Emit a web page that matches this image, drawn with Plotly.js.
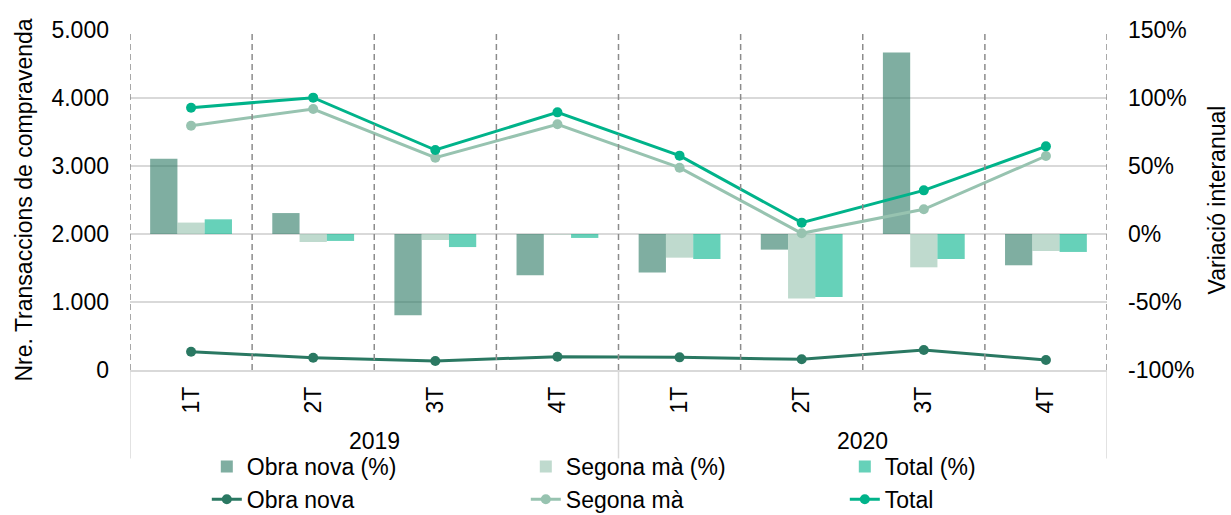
<!DOCTYPE html>
<html>
<head>
<meta charset="utf-8">
<script src="https://cdn.plot.ly/plotly-3.0.1.min.js"></script>
<style>html,body{margin:0;padding:0;background:#fff;}#chart{width:1231px;height:515px;}</style>
</head>
<body>
<div id="chart"></div>
<script>
// Data
const quarters = ['1T','2T','3T','4T','1T','2T','3T','4T'];
const years = ['2019','2020'];
const quartersPerYear = 4;

// Number of transactions (left axis)
const obraNova  = [269, 181, 132, 196, 186, 157, 294, 147];
const segonaMa  = [3593, 3838, 3122, 3613, 2975, 2010, 2363, 3147];
const total     = [3857, 4005, 3235, 3789, 3152, 2167, 2642, 3289];

// Year-on-year change in % (right axis)
const obraNovaPct = [55.4, 15.4, -59.8, -30.4, -28.4, -11.5, 133.4, -23.0];
const segonaMaPct = [8.4, -5.9, -4.4, -0.4, -17.4, -47.5, -24.5, -12.5];
const totalPct    = [10.8, -5.1, -9.6, -2.9, -18.4, -46.3, -18.4, -13.2];

// Axis ticks
const leftTicks = [0, 1000, 2000, 3000, 4000, 5000];
const leftTickText = ['0', '1.000', '2.000', '3.000', '4.000', '5.000'];
const rightTicks = [-100, -50, 0, 50, 100, 150];
const rightTickText = ['-100%', '-50%', '0%', '50%', '100%', '150%'];

const FONT = 'Liberation Sans, Arial, sans-serif';
const FS = 23;
const xIdx = quarters.map((_, i) => i);

const cDark = '#2a7862', cLight = '#97c3b0', cTotal = '#00b38a';
const bDark = 'rgba(42,120,98,0.6)', bLight = 'rgba(151,195,176,0.62)', bTotal = 'rgba(0,179,138,0.6)';

const traces = [
  {type:'bar', name:'Obra nova (%)', x:xIdx, y:obraNovaPct, yaxis:'y',
   marker:{color:bDark, line:{width:0}}},
  {type:'bar', name:'Segona mà (%)', x:xIdx, y:segonaMaPct, yaxis:'y',
   marker:{color:bLight, line:{width:0}}},
  {type:'bar', name:'Total (%)', x:xIdx, y:totalPct, yaxis:'y',
   marker:{color:bTotal, line:{width:0}}},
  {type:'scatter', mode:'lines+markers', name:'Obra nova', x:xIdx, y:obraNova, yaxis:'y2',
   line:{color:cDark, width:3}, marker:{color:cDark, size:10}},
  {type:'scatter', mode:'lines+markers', name:'Segona mà', x:xIdx, y:segonaMa, yaxis:'y2',
   line:{color:cLight, width:3}, marker:{color:cLight, size:10}},
  {type:'scatter', mode:'lines+markers', name:'Total', x:xIdx, y:total, yaxis:'y2',
   line:{color:cTotal, width:3}, marker:{color:cTotal, size:10}}
];

const shapes = [];
// dashed category separators
for (let i = 0; i <= quarters.length; i++) {
  shapes.push({type:'line', xref:'x', yref:'paper', x0:i-0.5, x1:i-0.5, y0:0, y1:1,
    line:{color:'#8c8c8c', width:1.5, dash:'6px,4px'}, layer:'above'});
}
// solid year separators in label area
for (let k = 0; k <= years.length; k++) {
  const xv = k*quartersPerYear - 0.5;
  shapes.push({type:'line', xref:'x', yref:'paper', x0:xv, x1:xv, y0:0, y1:-0.26,
    line:{color:'#d9d9d9', width:1.5}});
}

const annotations = years.map((yr, k) => ({
  text: yr, xref:'x', yref:'paper', x: k*quartersPerYear + (quartersPerYear-1)/2, y:-0.208,
  showarrow:false, font:{family:FONT, size:FS, color:'#000'}, yanchor:'middle'
}));

const layout = {
  width:1231, height:515,
  margin:{l:130, r:124, t:30, b:145, autoexpand:false},
  paper_bgcolor:'#fff', plot_bgcolor:'#fff',
  font:{family:FONT, size:FS, color:'#000'},
  barmode:'group', bargap:0.33, bargroupgap:0,
  showlegend:true,
  legend:{orientation:'h', xref:'container', yref:'container', x:0.168, xanchor:'left', y:0.136, yanchor:'top',
    entrywidth:274, entrywidthmode:'pixels', traceorder:'normal',
    font:{family:FONT, size:FS, color:'#000'}, bgcolor:'rgba(0,0,0,0)', tracegroupgap:0},
  xaxis:{range:[-0.5, quarters.length-0.5], tickvals:xIdx, ticktext:quarters, tickangle:-90,
    showgrid:false, zeroline:false, showline:true, linecolor:'#d9d9d9', linewidth:1.5,
    ticks:'', ticklabelstandoff:6, automargin:false,
    tickfont:{family:FONT, size:FS, color:'#000'}, fixedrange:true},
  yaxis:{side:'right', range:[-100,150], tickvals:rightTicks, ticktext:rightTickText,
    showgrid:true, gridcolor:'#d9d9d9', gridwidth:1.5, zeroline:false, ticks:'',
    ticklabelstandoff:20, automargin:false,
    tickfont:{family:FONT, size:FS, color:'#000'},
    title:{text:'Variació interanual', font:{family:FONT, size:FS, color:'#000'}, standoff:15}},
  yaxis2:{side:'left', overlaying:'y', range:[0,5000], tickvals:leftTicks, ticktext:leftTickText,
    showgrid:false, zeroline:false, ticks:'', ticklabelstandoff:20, automargin:false,
    tickfont:{family:FONT, size:FS, color:'#000'},
    title:{text:'Nre. Transaccions de compravenda', font:{family:FONT, size:FS, color:'#000'}, standoff:12}},
  shapes:shapes,
  annotations:annotations
};

Plotly.newPlot('chart', traces, layout, {staticPlot:true, displayModeBar:false});
</script>
</body>
</html>
